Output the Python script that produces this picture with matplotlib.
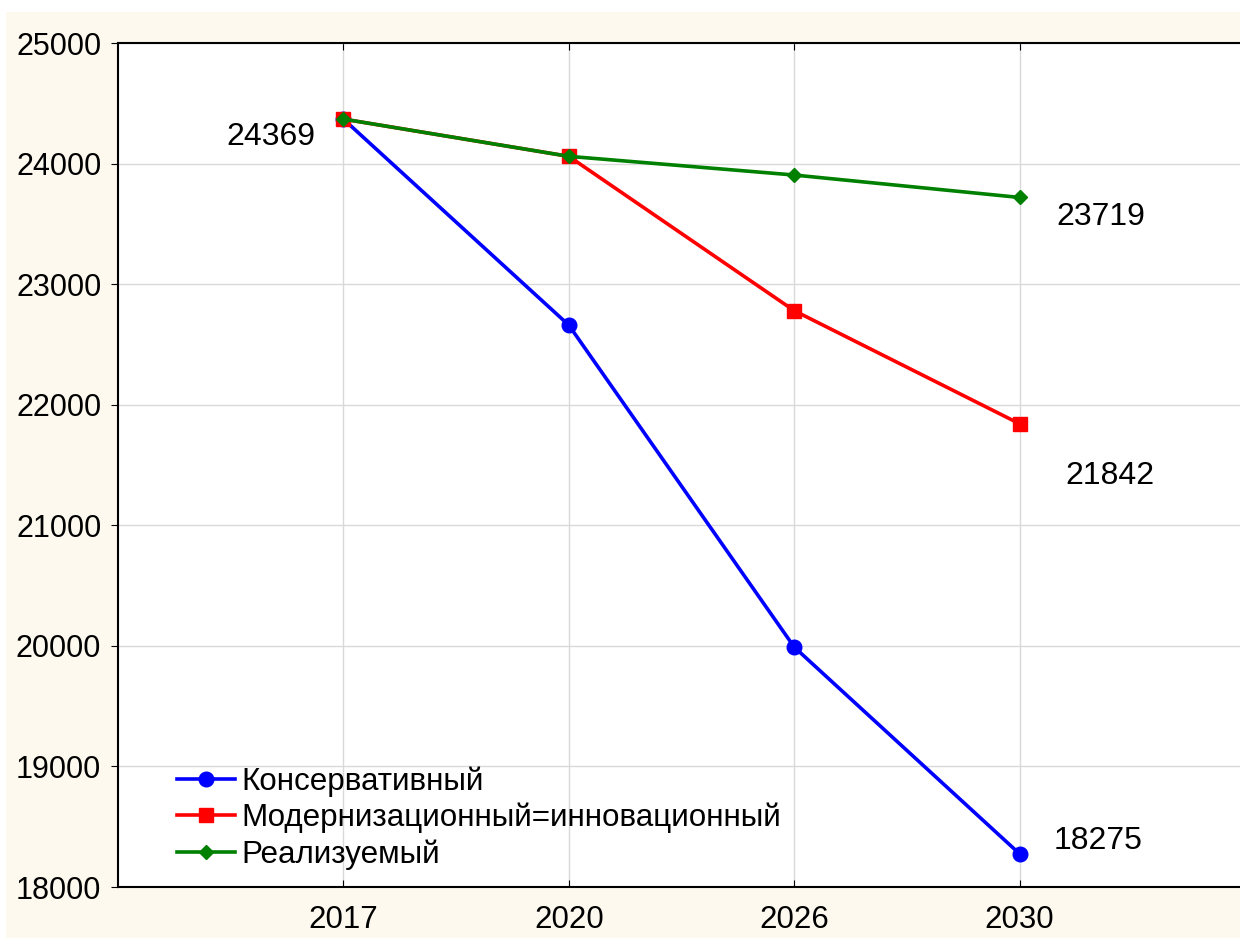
import numpy as np
import matplotlib.pyplot as plt
from matplotlib.patches import Rectangle

plt.rcParams['font.family'] = ['Liberation Sans', 'DejaVu Sans']

years = ['2017', '2020', '2026', '2030']
konserv = [24369, 22660, 19990, 18275]
modern = [24369, 24060, 22780, 21842]
realiz = [24369, 24060, 23905, 23719]
names = ['Консервативный', 'Модернизационный=инновационный', 'Реализуемый']

fig = plt.figure(figsize=(12.4, 9.38), dpi=100)
fig.patch.set_facecolor('white')
fig.patches.append(Rectangle((6/1240, 0), 1, (938-12)/938, transform=fig.transFigure,
                             facecolor='#fdf9ee', edgecolor='none', zorder=-10))

ax = fig.add_axes([118/1240, 51/938, (1245-118)/1240, (887-43)/938])
ax.set_facecolor('white')

x = np.arange(len(years))
ax.plot(x, konserv, color='blue', lw=2.6, marker='o', ms=10.5, label=names[0])
ax.plot(x, modern, color='red', lw=2.6, marker='s', ms=9.5, label=names[1])
ax.plot(x, realiz, color='green', lw=2.6, marker='D', ms=7, label=names[2])

ax.set_xlim(-1, 4)
ax.set_ylim(18000, 25000)
ax.set_xticks(x)
ax.set_xticklabels(years)
ax.set_yticks(np.arange(18000, 25001, 1000))
ax.grid(True, color='#d9d9d9', lw=1)
ax.set_axisbelow(True)

for s in ['left', 'bottom', 'top']:
    ax.spines[s].set_linewidth(1.5)
    ax.spines[s].set_color('black')
ax.spines['right'].set_visible(False)

ax.tick_params(axis='x', direction='in', top=True, length=5, pad=13, labelsize=22.5)
ax.tick_params(axis='y', direction='out', length=5, pad=7, labelsize=22)

# value labels
ax.text(x[0] - 0.32, konserv[0] - 150, str(konserv[0]), fontsize=23, ha='center', va='center')
ax.text(x[3] + 0.36, realiz[3] - 160, str(realiz[3]), fontsize=23, ha='center', va='center')
ax.text(x[3] + 0.40, modern[3] - 430, str(modern[3]), fontsize=23, ha='center', va='center')
ax.text(x[3] + 0.35, konserv[3] + 110, str(konserv[3]), fontsize=23, ha='center', va='center')

ax.legend(loc='lower left', bbox_to_anchor=(0.033, -0.006), frameon=False, fontsize=22.6,
          handlelength=1.85, handletextpad=0.2, labelspacing=0.2, borderpad=0.2)

fig.savefig('out.png', dpi=100, facecolor=fig.get_facecolor())
